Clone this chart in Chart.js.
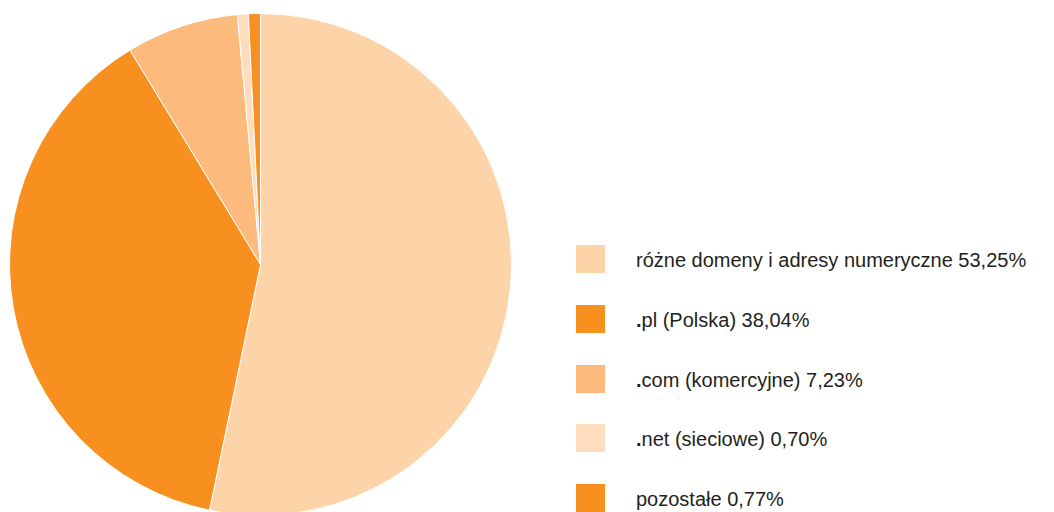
<!DOCTYPE html>
<html>
<head>
<meta charset="utf-8">
<script src="https://cdn.jsdelivr.net/npm/chart.js@4/dist/chart.umd.min.js"></script>
<style>
    html, body { margin: 0; padding: 0; background: #fff; overflow: hidden; }
    body { width: 1054px; height: 512px; position: relative; font-family: "Liberation Sans", Arial, Helvetica, sans-serif; }
    #pieBox { position: absolute; left: 0; top: 0; width: 520px; height: 528px; }
    #legend { position: absolute; left: 576px; top: 245px; }
    .row { position: absolute; left: 0; display: flex; align-items: center; height: 28px; white-space: nowrap; }
    .box { width: 29px; height: 28px; flex: none; }
    .label { margin-left: 31px; font-size: 20px; line-height: 20px; color: #231f20; position: relative; top: 1px; }
    .label b { font-weight: bold; }
</style>
</head>
<body>
<div id="pieBox"><canvas id="pie"></canvas></div>
<div id="legend"></div>
<script>
// domain shares (percent), clockwise from 12 o'clock
const categories = ["różne domeny i adresy numeryczne", ".pl (Polska)", ".com (komercyjne)", ".net (sieciowe)", "pozostałe"];
const shares = [53.25, 38.04, 7.23, 0.70, 0.77];
const shareLabels = ["53,25%", "38,04%", "7,23%", "0,70%", "0,77%"];
const colors = ["#fdd3a8", "#f7901e", "#fdba7d", "#feddbe", "#f7901e"];

document.addEventListener("DOMContentLoaded", function() {
    const chart = new Chart(document.getElementById("pie").getContext("2d"), {
        type: "pie",
        data: {
            labels: categories,
            datasets: [{
                data: shares,
                backgroundColor: colors,
                borderColor: "#ffffff",
                borderWidth: 1
            }]
        },
        options: {
            responsive: true,
            maintainAspectRatio: false,
            animation: false,
            layout: { padding: { left: 9, top: 13, right: 8, bottom: 12 } },
            plugins: {
                legend: { display: false },
                tooltip: { enabled: false }
            }
        }
    });

    // legend on the right, built from the same arrays
    const legend = document.getElementById("legend");
    categories.forEach(function(name, i) {
        const row = document.createElement("div");
        row.className = "row";
        row.style.top = Math.round(i * 59.75) + "px";
        const box = document.createElement("div");
        box.className = "box";
        box.style.background = colors[i];
        const label = document.createElement("div");
        label.className = "label";
        if (name.startsWith(".")) {
            const dot = document.createElement("b");
            dot.textContent = ".";
            label.appendChild(dot);
            label.appendChild(document.createTextNode(name.slice(1) + " " + shareLabels[i]));
        } else {
            label.textContent = name + " " + shareLabels[i];
        }
        row.appendChild(box);
        row.appendChild(label);
        legend.appendChild(row);
    });
});
</script>
</body>
</html>
